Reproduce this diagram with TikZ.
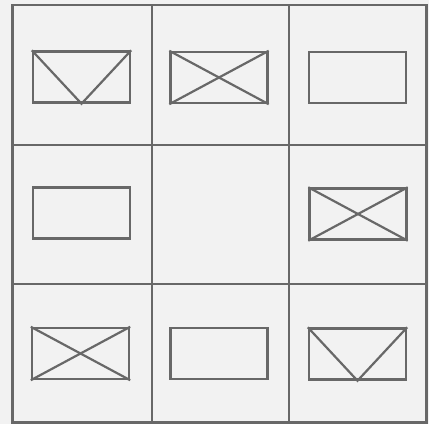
\documentclass[tikz,border=0pt]{standalone}
\definecolor{ln}{HTML}{686868}
\definecolor{bg}{HTML}{F2F2F2}
\begin{document}
\begin{tikzpicture}[x=1pt,y=-1pt,
  gridline/.style={draw=ln,line width=2.4pt},
  box/.style={draw=ln,line width=2.4pt,minimum width=97pt,minimum height=51pt,inner sep=0pt},
  diag/.style={draw=ln,line width=2.2pt}]
\fill[bg] (0,0) rectangle (429,424);
\useasboundingbox (0,0) rectangle (429,424);
% grid
\coordinate (tl) at (12.5,5);
\coordinate (br) at (426.5,422.5);
\coordinate (v1t) at (152,5);   \coordinate (v1b) at (152,422.5);
\coordinate (v2t) at (289,5);   \coordinate (v2b) at (289,422.5);
\coordinate (h1l) at (12.5,145); \coordinate (h1r) at (426.5,145);
\coordinate (h2l) at (12.5,284); \coordinate (h2r) at (426.5,284);
\draw[gridline] (tl) rectangle (br);
\draw[gridline] (v1t) -- (v1b);
\draw[gridline] (v2t) -- (v2b);
\draw[gridline] (h1l) -- (h1r);
\draw[gridline] (h2l) -- (h2r);
% inner boxes
\node[box] (b11) at (81.5,77) {};
\node[box] (b12) at (219,77.5) {};
\node[box] (b13) at (357.5,77.5) {};
\node[box] (b21) at (81.5,213) {};
\node[box] (b23) at (358,214) {};
\node[box] (b31) at (80.5,353.5) {};
\node[box] (b32) at (219,353.5) {};
\node[box] (b33) at (357.5,354) {};
% marks
\draw[diag] (b11.north west) -- (b11.south) -- (b11.north east);
\draw[diag] (b33.north west) -- (b33.south) -- (b33.north east);
\draw[diag] (b12.north west) -- (b12.south east);
\draw[diag] (b12.south west) -- (b12.north east);
\draw[diag] (b23.north west) -- (b23.south east);
\draw[diag] (b23.south west) -- (b23.north east);
\draw[diag] (b31.north west) -- (b31.south east);
\draw[diag] (b31.south west) -- (b31.north east);
\end{tikzpicture}
\end{document}
